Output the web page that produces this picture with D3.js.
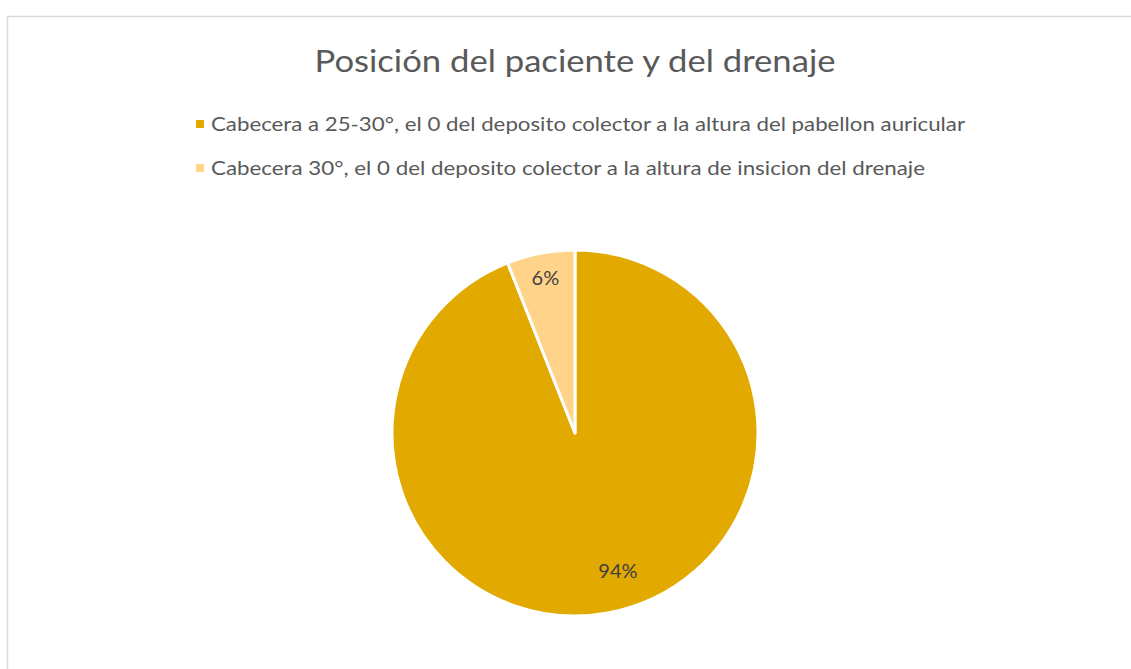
<!DOCTYPE html>
<html lang="es">
<head>
    <meta charset="UTF-8">
    <script src="https://d3js.org/d3.v7.min.js"></script>
    <title>Posición del paciente y del drenaje</title>
    <style>
        body { margin: 0; background: #fff; overflow: hidden; }
        text { font-family: Lato, "Open Sans", sans-serif; }
    </style>
</head>
<body>
<script>
    var categorias = [
        "Cabecera a 25-30°, el 0 del deposito colector a la altura del pabellon auricular",
        "Cabecera 30°, el 0 del deposito colector a la altura de insicion del drenaje"
    ];
    var valores = [94, 6];
    var etiquetas = ["94%", "6%"];
    var colores = ["#e2aa00", "#ffd38a"];

    var width = 1131, height = 669;

    var svg = d3.select("body").append("svg")
        .attr("width", width)
        .attr("height", height);

    // marco del gráfico
    svg.append("rect")
        .attr("x", 7.5).attr("y", 16.5)
        .attr("width", 1140).attr("height", 700)
        .attr("fill", "#fff")
        .attr("stroke", "#d9d9d9")
        .attr("stroke-width", 1.5);

    svg.append("text")
        .attr("x", 575).attr("y", 72)
        .attr("text-anchor", "middle")
        .attr("font-size", 30)
        .attr("fill", "#595959")
        .attr("textLength", 521)
        .attr("lengthAdjust", "spacingAndGlyphs")
        .text("Posición del paciente y del drenaje");

    // leyenda
    var leyenda = svg.selectAll(".leyenda")
        .data(categorias)
        .join("g")
        .attr("class", "leyenda")
        .attr("transform", (d, i) => `translate(196, ${124 + i * 44})`);

    leyenda.append("rect")
        .attr("x", 0).attr("y", -4)
        .attr("width", 8).attr("height", 8)
        .attr("fill", (d, i) => colores[i]);

    leyenda.append("text")
        .attr("x", 15).attr("y", 7)
        .attr("font-size", 19)
        .attr("fill", "#595959")
        .attr("textLength", (d, i) => i == 0 ? 754 : 714)
        .attr("lengthAdjust", "spacingAndGlyphs")
        .text(d => d);

    // pastel
    var cx = 575, cy = 433, radio = 183;

    var pie = d3.pie().sort(null).value(d => d);
    var arc = d3.arc().innerRadius(0).outerRadius(radio);
    var arcos = pie(valores);

    var g = svg.append("g").attr("transform", `translate(${cx},${cy})`);

    g.selectAll("path")
        .data(arcos)
        .join("path")
        .attr("d", arc)
        .attr("fill", (d, i) => colores[i])
        .attr("stroke", "#fff")
        .attr("stroke-width", 3)
        .attr("stroke-linejoin", "round");

    // etiquetas dentro de cada porción (como Excel, la grande algo desplazada)
    var factorRadio = [0.79, 0.865];
    var giro = [-0.113, 0];
    g.selectAll(".etiqueta")
        .data(arcos)
        .join("text")
        .attr("class", "etiqueta")
        .attr("transform", (d, i) => {
            var a = (d.startAngle + d.endAngle) / 2 + giro[i];
            var r = radio * factorRadio[i];
            return `translate(${Math.sin(a) * r},${-Math.cos(a) * r})`;
        })
        .attr("text-anchor", "middle")
        .attr("dy", "0.35em")
        .attr("font-size", 20)
        .attr("fill", "#404040")
        .text((d, i) => etiquetas[i]);
</script>
</body>
</html>
